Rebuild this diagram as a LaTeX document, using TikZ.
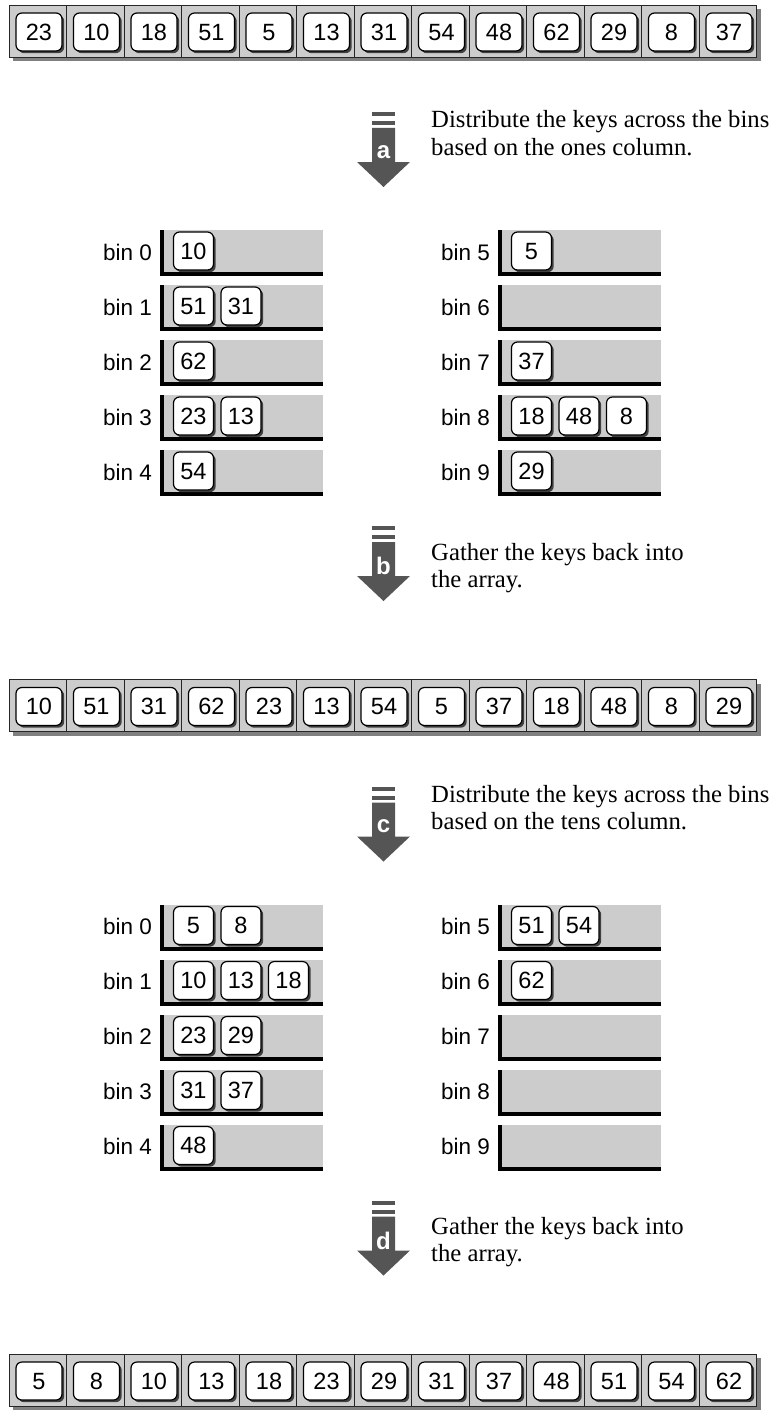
\documentclass[tikz,border=0pt]{standalone}
\usepackage{fontspec}
\setmainfont{Liberation Serif}
\newfontfamily\arialfont{Liberation Sans}
\usetikzlibrary{shadows}
\definecolor{cellgray}{HTML}{CCCCCC}
\definecolor{arrowgray}{HTML}{555555}
\tikzset{
  arrcell/.style={draw=black!85, line width=0.8pt, fill=cellgray, minimum width=57.5pt, minimum height=52pt, inner sep=0pt},
  keybox/.style={draw=black, line width=1.2pt, fill=white, rounded corners=6pt, minimum width=46pt, minimum height=38pt, inner sep=0pt,
    text height=16.8pt, text depth=0pt,
    font=\arialfont\fontsize{23.5}{27}\selectfont,
    drop shadow={shadow xshift=2.2pt, shadow yshift=-2.2pt, fill=black!75, opacity=1}},
  binkey/.style={keybox, minimum width=40pt},
  binlabel/.style={anchor=east, inner sep=0pt, text height=16pt, text depth=0pt, font=\arialfont\fontsize{22.5}{26}\selectfont},
  desc/.style={anchor=base west, inner sep=0pt, font=\fontsize{24.7}{27}\selectfont},
  letter/.style={inner sep=0pt, text=white, font=\arialfont\bfseries\fontsize{24}{26}\selectfont},
  arrowfill/.style={fill=arrowgray},
}
% array: #1 prefix, #2 top y, #3 list
\newcommand\keyarray[3]{%
  \fill[black!50] (13,#2+4) rectangle (760.5,#2+56);
  \foreach \v [count=\i] in {#3} {
    \node[arrcell] (#1c\i) at (9+57.5*\i-28.75,#2+26) {};
    \node[keybox] (#1k\i) at (9+57.5*\i-57.5+30,#2+27) {\v};
  }
}
% bin row: #1 name, #2 bar x, #3 top y, #4 label
\newcommand\binrow[4]{%
  \fill[cellgray] (#2,#3) rectangle (#2+163,#3+42);
  \fill[black] (#2,#3) rectangle (#2+3.5,#3+46);
  \fill[black] (#2,#3+42) rectangle (#2+163,#3+46);
  \node[binlabel] (#1) at (#2-8,#3+22) {#4};
}
% keys in a bin: #1 name, #2 bar x, #3 top y, #4 list
\newcommand\binkeys[4]{%
  \foreach \v [count=\i] in {#4} {
    \node[binkey] (#1k\i) at (#2+33.5+47.5*\i-47.5,#3+21) {\v};
  }
}
% arrow: #1 name, #2 top y, #3 letter
\newcommand\bigarrow[3]{%
  \fill[arrowfill] (372,#2) rectangle (395,#2+4);
  \fill[arrowfill] (372,#2+9) rectangle (395,#2+13);
  \fill[arrowfill] (372,#2+16) -- (395,#2+16) -- (395,#2+50) -- (410,#2+50) -- (383.5,#2+75) -- (357,#2+50) -- (372,#2+50) -- cycle;
  \node[letter] (#1) at (383.5,#2+40) {#3};
}
\begin{document}
\begin{tikzpicture}[x=1pt,y=-1pt]
\useasboundingbox (0,0) rectangle (771,1410);
% ---- first array
\keyarray{A}{5}{23,10,18,51,5,13,31,54,48,62,29,8,37}
% ---- arrow a
\bigarrow{arra}{112}{a}
\node[desc] (da1) at (431,128) {Distribute the keys across the bins};
\node[desc] (da2) at (431,155) {based on the ones column.};
% ---- bins, first pass
\binrow{Pb0}{160}{230}{bin 0}
\binrow{Pb1}{160}{285}{bin 1}
\binrow{Pb2}{160}{340}{bin 2}
\binrow{Pb3}{160}{395}{bin 3}
\binrow{Pb4}{160}{450}{bin 4}
\binrow{Pb5}{498}{230}{bin 5}
\binrow{Pb6}{498}{285}{bin 6}
\binrow{Pb7}{498}{340}{bin 7}
\binrow{Pb8}{498}{395}{bin 8}
\binrow{Pb9}{498}{450}{bin 9}
\binkeys{Pb0}{160}{230}{10}
\binkeys{Pb1}{160}{285}{51,31}
\binkeys{Pb2}{160}{340}{62}
\binkeys{Pb3}{160}{395}{23,13}
\binkeys{Pb4}{160}{450}{54}
\binkeys{Pb5}{498}{230}{5}
\binkeys{Pb7}{498}{340}{37}
\binkeys{Pb8}{498}{395}{18,48,8}
\binkeys{Pb9}{498}{450}{29}
% ---- arrow b
\bigarrow{arrb}{526}{b}
\node[desc] (db1) at (431,560) {Gather the keys back into};
\node[desc] (db2) at (431,587) {the array.};
% ---- second array
\keyarray{B}{679.5}{10,51,31,62,23,13,54,5,37,18,48,8,29}
% ---- arrow c
\bigarrow{arrc}{786.5}{c}
\node[desc] (dc1) at (431,802.5) {Distribute the keys across the bins};
\node[desc] (dc2) at (431,829.5) {based on the tens column.};
% ---- bins, second pass
\binrow{Qb0}{160}{904.5}{bin 0}
\binrow{Qb1}{160}{959.5}{bin 1}
\binrow{Qb2}{160}{1014.5}{bin 2}
\binrow{Qb3}{160}{1069.5}{bin 3}
\binrow{Qb4}{160}{1124.5}{bin 4}
\binrow{Qb5}{498}{904.5}{bin 5}
\binrow{Qb6}{498}{959.5}{bin 6}
\binrow{Qb7}{498}{1014.5}{bin 7}
\binrow{Qb8}{498}{1069.5}{bin 8}
\binrow{Qb9}{498}{1124.5}{bin 9}
\binkeys{Qb0}{160}{904.5}{5,8}
\binkeys{Qb1}{160}{959.5}{10,13,18}
\binkeys{Qb2}{160}{1014.5}{23,29}
\binkeys{Qb3}{160}{1069.5}{31,37}
\binkeys{Qb4}{160}{1124.5}{48}
\binkeys{Qb5}{498}{904.5}{51,54}
\binkeys{Qb6}{498}{959.5}{62}
% ---- arrow d
\bigarrow{arrd}{1200.5}{d}
\node[desc] (dd1) at (431,1234.5) {Gather the keys back into};
\node[desc] (dd2) at (431,1261.5) {the array.};
% ---- final array
\keyarray{C}{1354}{5,8,10,13,18,23,29,31,37,48,51,54,62}
\end{tikzpicture}
\end{document}
